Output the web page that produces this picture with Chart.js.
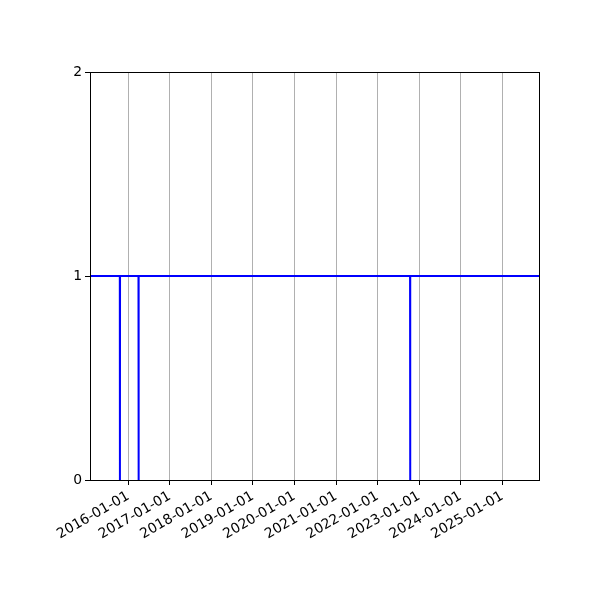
<!DOCTYPE html>
<html lang="en">
<head>
  <meta charset="UTF-8">
  <title>Status timeline</title>
  <script src="https://cdn.jsdelivr.net/npm/chart.js"></script>
  <style>
    body {
      margin: 0;
      background: #ffffff;
    }
    #wrap {
      width: 600px;
      height: 600px;
    }
  </style>
</head>
<body>
  <div id="wrap"><canvas id="statusChart" width="600" height="600"></canvas></div>

  <script>
    // data: the status is 1 except for three one-day drops
    const dates = ['2015-01-30', '2015-10-19', '2015-10-20', '2015-10-21',
                   '2016-03-31', '2016-04-01', '2016-04-02',
                   '2022-10-13', '2022-10-14', '2022-10-15', '2025-11-28'];
    const values = [1, 1, 0, 1, 1, 0, 1, 1, 0, 1, 1];
    const yearTicks = ['2016-01-01', '2017-01-01', '2018-01-01', '2019-01-01', '2020-01-01',
                       '2021-01-01', '2022-01-01', '2023-01-01', '2024-01-01', '2025-01-01'];
    const yTicks = [0, 1, 2];

    const toMs = d => Date.parse(d);
    const fmtDate = v => new Date(v).toISOString().slice(0, 10);
    const tickFont = { family: 'DejaVu Sans', size: 13.9 };

    const points = dates.map((d, i) => ({ x: toMs(d), y: values[i] }));

    // matplotlib-like box around the plot area
    const frame = {
      id: 'frame',
      afterDraw(chart) {
        const { ctx, chartArea: a } = chart;
        ctx.save();
        ctx.strokeStyle = '#000000';
        ctx.lineWidth = 1;
        ctx.strokeRect(a.left + 0.5, a.top + 0.5, a.right - a.left - 1, a.bottom - a.top);
        ctx.restore();
      }
    };

    new Chart(document.getElementById('statusChart'), {
      type: 'line',
      data: {
        datasets: [{
          data: points,
          borderColor: '#0000ff',
          borderWidth: 2,
          pointRadius: 0,
          fill: false,
          tension: 0
        }]
      },
      options: {
        responsive: false,
        animation: false,
        devicePixelRatio: 1,
        layout: { padding: { top: 72, right: 60, left: 0, bottom: 0 } },
        plugins: {
          legend: { display: false },
          tooltip: { enabled: false }
        },
        scales: {
          x: {
            type: 'linear',
            min: toMs(dates[0]),
            max: toMs(dates[dates.length - 1]),
            afterBuildTicks: s => { s.ticks = yearTicks.map(d => ({ value: toMs(d) })); },
            afterFit: s => { s.height = 120; },
            border: { display: false },
            grid: {
              color: '#b0b0b0',
              lineWidth: 1,
              tickColor: '#000000',
              tickLength: 5
            },
            ticks: {
              autoSkip: false,
              maxRotation: 30,
              minRotation: 30,
              padding: 3,
              color: '#000000',
              font: tickFont,
              callback: v => fmtDate(v)
            }
          },
          y: {
            min: 0,
            max: 2,
            afterBuildTicks: s => { s.ticks = yTicks.map(v => ({ value: v })); },
            afterFit: s => { s.width = 90; },
            border: { display: false },
            grid: {
              drawOnChartArea: false,
              tickColor: '#000000',
              tickLength: 5
            },
            ticks: {
              padding: 3,
              color: '#000000',
              font: tickFont
            }
          }
        }
      },
      plugins: [frame]
    });
  </script>
</body>
</html>
